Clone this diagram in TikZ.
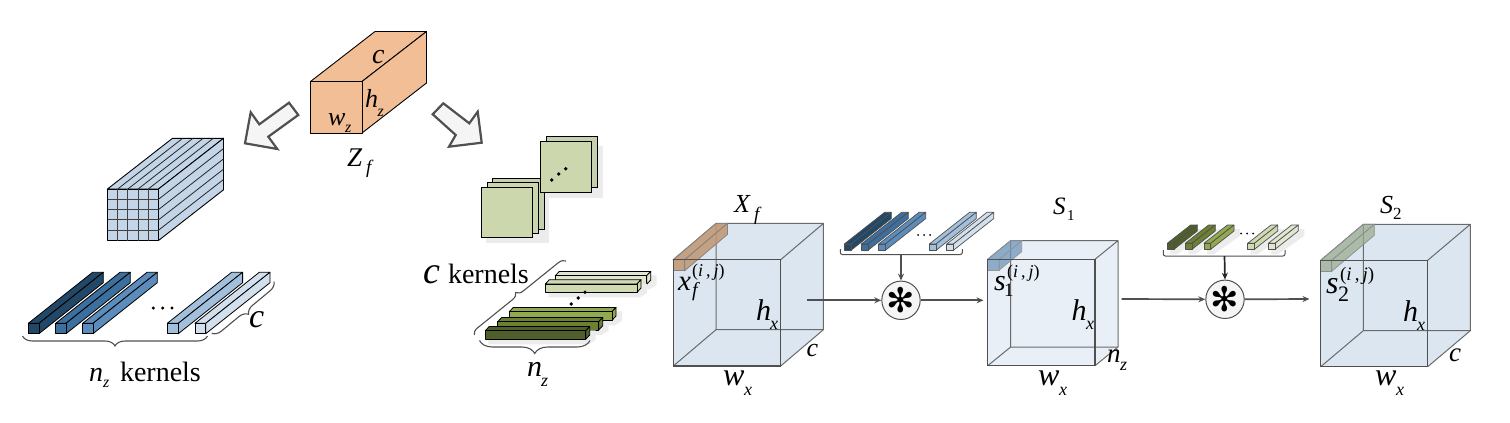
\documentclass[tikz,border=0pt]{standalone}
\usepackage{fontspec}
\setmainfont{Liberation Serif}
\newfontfamily\symfont{DejaVu Sans}
\usetikzlibrary{decorations.pathreplacing,arrows.meta}
\definecolor{edgeg}{HTML}{505050}
\definecolor{cubeA}{HTML}{DBE6F0}
\definecolor{cubeB}{HTML}{E8EFF6}
\definecolor{zfill}{HTML}{F2BE96}
\definecolor{grid}{HTML}{C3D5E6}
\definecolor{bA}{HTML}{234766}
\definecolor{bB}{HTML}{3C6E9E}
\definecolor{bC}{HTML}{5B8CBC}
\definecolor{bD}{HTML}{A2BFDB}
\definecolor{bE}{HTML}{D2E0EE}
\definecolor{gA}{HTML}{4F5F2B}
\definecolor{gB}{HTML}{6B8033}
\definecolor{gC}{HTML}{92A94F}
\definecolor{gD}{HTML}{CFDAB2}
\definecolor{gE}{HTML}{E0E6CF}
\definecolor{sq}{HTML}{CDD7AE}
\definecolor{sqb}{HTML}{C6CFB0}
\definecolor{shad}{HTML}{ECECEC}
\definecolor{colO}{HTML}{C09670}
\definecolor{colB}{HTML}{6F96BA}
\definecolor{colG}{HTML}{98AD8C}
% {options}{x1}{y1}{x2}{y2}{dx}{dy}
\newcommand\kbar[7][]{%
  \filldraw[#1] (#2,#3) -- ({#2+#6},{#3+#7}) -- ({#4+#6},{#3+#7}) -- (#4,#3) -- cycle;
  \filldraw[#1] (#4,#3) -- ({#4+#6},{#3+#7}) -- ({#4+#6},{#5+#7}) -- (#4,#5) -- cycle;
  \filldraw[#1] (#2,#3) rectangle (#4,#5);}
\newcommand\kshadow[6]{\fill[shad] ({#1+3},{#2+4}) -- ({#1+#5+5},{#2+#6+4}) -- ({#3+#5+6},{#2+#6+4}) -- ({#3+#5+6},{#4+#6+5}) -- ({#3+3},{#4+5}) -- ({#1+3},{#4+5}) -- cycle;}
\newcommand\cube[7]{%
  \fill[#7] (#1,#2) -- ({#1+#5},{#2+#6}) -- ({#3+#5},{#2+#6}) -- ({#3+#5},{#4+#6}) -- (#3,#4) -- (#1,#4) -- cycle;
  \draw[cubeback] ({#1+#5},{#4+#6}) -- ({#1+#5},{#2+#6}) ({#1+#5},{#4+#6}) -- ({#3+#5},{#4+#6}) ({#1+#5},{#4+#6}) -- (#1,#4);
  \draw[cubeback] (#1,#2) -- ({#1+#5},{#2+#6}) -- ({#3+#5},{#2+#6}) -- ({#3+#5},{#4+#6}) -- (#3,#4) (#3,#2) -- ({#3+#5},{#2+#6});}
\newcommand\cubefront[4]{\draw[cubefrontline] (#1,#2) rectangle (#3,#4);}
\newcommand\lb[5][]{\node[lbl,#1] (#2) at (#3) {\fontsize{#4}{#4}\selectfont #5};}
\tikzset{
  lbl/.style={anchor=base west,inner sep=0pt,outer sep=0pt},
  cubeback/.style={draw=edgeg!85,line width=1pt,line join=round},
  cubefrontline/.style={draw=edgeg,line width=1.2pt},
  kb/.style={draw=black,line width=0.8pt,line join=round},
  kbs/.style={draw=edgeg,line width=0.7pt,line join=round},
  sqr/.style={draw=black,line width=0.8pt},
  bigarrow/.style={draw=edgeg,fill=black!4,line width=2.2pt,line join=miter},
  bracegray/.style={draw=edgeg,line width=1.1pt,decorate,decoration={brace,amplitude=#1}},
  bracegray/.default=10pt,
  bracket/.style={draw=edgeg,line width=1pt,rounded corners=2pt},
  flow/.style={draw=edgeg,line width=1.7pt,-{Stealth[length=7pt,width=6pt]}},
  opnode/.style={circle,draw=edgeg,fill=black!4,line width=1pt,minimum size=36.5pt,inner sep=0pt},
  dot/.style={fill=black},
}
\begin{document}
\begin{tikzpicture}[x=1pt,y=-1pt]
\useasboundingbox (0,0) rectangle (1510,423);
% Z_f block
\kbar[draw=black,line width=0.9pt,line join=round,fill=zfill]{310.5}{81.5}{362}{133}{64.5}{-50}
\lb{zc}{372,63.3}{28}{\itshape c}
\lb{zh}{365,107.7}{26}{\itshape h}
\lb{zhs}{377.5,116}{16}{\itshape z}
\lb{zw}{328,125}{26}{\itshape w}
\lb{zws}{345,132.7}{16}{\itshape z}
\lb{zZ}{347,166.7}{27}{\itshape Z}
\lb{zZs}{366,173}{19}{\itshape f}
% hollow arrows
\filldraw[bigarrow] (289,102.7) -- (298.3,115) -- (268.3,136.7) -- (277.3,149) -- (245,143.3) -- (250.7,112.3) -- (259.3,124.3) -- cycle;
\filldraw[bigarrow] (443.3,103.3) -- (432.7,114.3) -- (455.7,135) -- (449,146.7) -- (481.7,142.7) -- (477.7,111.7) -- (469.3,123.3) -- cycle;
% grid block
\kbar[draw=black,line width=0.9pt,line join=round,fill=grid]{107.5}{189}{158.5}{240.5}{65}{-50.7}
\foreach \i in {1,...,4} {
  \draw[black!75,line width=0.9pt] ({107.5+\i*10.2},189) -- ({107.5+\i*10.2},240.5);
  \draw[black!75,line width=0.9pt] (107.5,{189+\i*10.3}) -- (158.5,{189+\i*10.3});
  \draw[black!85,line width=0.8pt] ({107.5+\i*10.2},189) -- ({172.5+\i*10.2},138.3);
  \draw[black!85,line width=0.8pt] (158.5,{189+\i*10.3}) -- (223.5,{138.3+\i*10.3});
}
% blue kernels
\kbar[kb,fill=bA]{28.3}{323.3}{39}{333.7}{64.3}{-51}
\kbar[kb,fill=bB]{55.7}{323.3}{66}{333.7}{64.3}{-51}
\kbar[kb,fill=bC]{82.7}{323.3}{93}{333.7}{64.3}{-51}
\kbar[kb,fill=bD]{167.3}{323.3}{178.3}{333.7}{64.3}{-51}
\kbar[kb,fill=bE]{195}{323.3}{205.7}{333.7}{64.3}{-51}
\foreach \x in {153.3,162.7,172} \fill[dot] (\x,308) circle (1.7);
\coordinate (bl1) at (207.5,336);
\coordinate (bl2) at (22.5,336);
\draw[bracegray=10pt] (bl1) -- (bl2);
\coordinate (bc1) at (274,281.7);
\coordinate (bc2) at (211.7,333.3);
\draw[bracegray=9pt] (bc1) -- (bc2);
\lb{lc}{249,327}{34}{\itshape c}
\lb{ln}{89,381}{28}{\itshape n}
\lb{lns}{103,387}{16}{\itshape z}
\lb{lk}{120,381}{28}{kernels}
% green squares
\fill[shad] (486,192) rectangle (549,243);
\fill[shad] (546,146) rectangle (603,198);
\filldraw[sqr,fill=sqb] (492.3,178.3) rectangle (544,229.3);
\filldraw[sqr,fill=sq!85!sqb] (487.3,182.7) rectangle (538.3,233.7);
\filldraw[sqr,fill=sq] (481.3,187) rectangle (532.7,237.7);
\filldraw[sqr,fill=sqb] (546,136) rectangle (597.7,187.7);
\filldraw[sqr,fill=sq] (540.3,141) rectangle (591.7,192.3);
\fill[dot] (551.7,180) circle (1.9) (558.7,174) circle (1.9) (565.7,168.7) circle (1.9);
% green flat kernels
\kshadow{555.3}{275.7}{646.7}{284.3}{4}{-4.3}
\kbar[kb,fill=gE]{555.3}{275.7}{646.7}{284.3}{4}{-4.3}
\kshadow{545.3}{284}{637}{292.3}{4}{-4.3}
\kbar[kb,fill=gD]{545.3}{284}{637}{292.3}{4}{-4.3}
\kshadow{509.3}{311.7}{612}{320.3}{4}{-4.3}
\kbar[kb,fill=gC]{509.3}{311.7}{612}{320.3}{4}{-4.3}
\kshadow{497.7}{321.7}{598.7}{330}{4}{-4.3}
\kbar[kb,fill=gB]{497.7}{321.7}{598.7}{330}{4}{-4.3}
\kshadow{485.3}{330.7}{585.7}{339.3}{4}{-4.3}
\kbar[kb,fill=gA]{485.3}{330.7}{585.7}{339.3}{4}{-4.3}
\fill[dot] (571.3,304) circle (1.9) (578.3,298) circle (1.9) (585,292.3) circle (1.9);
\coordinate (gb1) at (590,340.5);
\coordinate (gb2) at (479.5,340.5);
\draw[bracegray=13pt] (gb1) -- (gb2);
\coordinate (gd1) at (474.3,335);
\coordinate (gd2) at (566,261);
\draw[bracegray=7pt] (gd1) -- (gd2);
\lb{gc}{423,283}{38}{\itshape c}
\lb{gk}{448,283}{28}{kernels}
\lb{gn}{527,376.7}{30}{\itshape n}
\lb{gns}{541,386}{18}{\itshape z}
% cube X_f
\cube{673.3}{259.7}{780.7}{366}{42.7}{-36.3}{cubeA}
\kbar[draw=edgeg!70,line width=0.8pt,fill=colO,fill opacity=.85]{673.3}{259.7}{684.7}{270.7}{42.7}{-36.3}
\cubefront{673.3}{259.7}{780.7}{366}
\lb{xX}{734,212.3}{26}{\itshape X}
\lb{xXs}{754,220}{19}{\itshape f}
\lb{xx}{678,290}{29}{\itshape x}
\lb{xxs}{692,296.7}{20}{\itshape f}
\lb{xij}{692,276.7}{18}{(\textit{i}\,,\,\textit{j})}
\lb{xh}{756,320.7}{30}{\itshape h}
\lb{xhs}{770,329}{18}{\itshape x}
\lb{xc}{806.7,356.7}{26}{\itshape c}
\lb{xw}{723,385.7}{32}{\itshape w}
\lb{xws}{744,395}{18}{\itshape x}
% first convolution
\node[opnode] (op1) at (901,300.3) {\fontsize{34}{34}\selectfont\symfont ✻};
\kbar[kbs,fill=bA]{844.3}{244}{851}{250.3}{40.3}{-31.7}
\kbar[kbs,fill=bB]{861.3}{244}{868}{250.3}{40.3}{-31.7}
\kbar[kbs,fill=bC]{878.7}{244}{885.4}{250.3}{40.3}{-31.7}
\kbar[kbs,fill=bD]{929.3}{244}{936}{250.3}{40.3}{-31.7}
\kbar[kbs,fill=bE]{946.7}{244}{953.4}{250.3}{40.3}{-31.7}
\foreach \x in {918,924,930} \fill[dot] (\x,235) circle (1);
\coordinate (k1a) at (840.3,249);
\coordinate (k1b) at (962.3,249);
\coordinate (k1m) at (901,254.5);
\draw[bracket] (k1a) |- (k1m) -| (k1b);
\draw[flow] (k1m) -- (op1.north);
% cube S_1
\cube{987.7}{259.3}{1095}{365.7}{23}{-18.7}{cubeB}
\kbar[draw=edgeg!60,line width=0.7pt,fill=colB,fill opacity=.75]{987.7}{259.3}{999}{270.3}{22.7}{-18.6}
\cubefront{987.7}{259.3}{1095}{365.7}
\coordinate (x1out) at (806.7,300.3);
\draw[flow] (x1out) -- (op1.west);
\coordinate (s1in) at (983.5,300.3);
\draw[flow] (op1.east) -- (s1in);
\lb{sS}{1053,214.3}{25}{\itshape S}
\lb{sSs}{1067,220}{15}{1}
\lb{ss}{994,290}{30}{\itshape s}
\lb{sss}{1004,296.7}{19}{1}
\lb{sij}{1007,277}{18}{(\textit{i}\,,\,\textit{j})}
\lb{sh}{1071.7,320.7}{30}{\itshape h}
\lb{shs}{1086,329}{18}{\itshape x}
\lb{sn}{1107,362.7}{27}{\itshape n}
\lb{sns}{1120,370.7}{18}{\itshape z}
\lb{sw}{1038,385.7}{32}{\itshape w}
\lb{sws}{1059,395}{18}{\itshape x}
% second convolution
\node[opnode] (op2) at (1225,299.3) {\fontsize{34}{34}\selectfont\symfont ✻};
\foreach \x/\c in {1167.3/gA,1185.3/gB,1204/gC,1247.7/gD,1268.3/gE} {
  \kshadow{\x}{243.3}{\x+6.7}{249.3}{23.3}{-18.3}
  \kbar[kbs,fill=\c]{\x}{243.3}{\x+6.7}{249.3}{23.3}{-18.3}
}
\foreach \x in {1241,1247,1253} \fill[dot] (\x,233.5) circle (1);
\coordinate (k2a) at (1163.3,250);
\coordinate (k2b) at (1285,250);
\coordinate (k2m) at (1224.5,256);
\draw[bracket] (k2a) |- (k2m) -| (k2b);
\draw[flow,draw=black!85] (k2m) -- (op2.north);
% cube S_2
\cube{1320.7}{260.3}{1427.7}{366.7}{42.6}{-36}{cubeA}
\kbar[draw=edgeg!65,line width=0.7pt,fill=colG,fill opacity=.72]{1320.7}{260.3}{1331.7}{271.3}{42.6}{-36}
\cubefront{1320.7}{260.3}{1427.7}{366.7}
\coordinate (s1out) at (1121.7,299);
\draw[flow] (s1out) -- (op2.west);
\coordinate (s2in) at (1309.5,299);
\draw[flow] (op2.east) -- (s2in);
\lb{tS}{1380,213.3}{26}{\itshape S}
\lb{tSs}{1393,219}{17}{2}
\lb{ts}{1326,293.3}{32}{\itshape s}
\lb{tss}{1338,301.7}{22}{2}
\lb{tij}{1340,280}{19}{(\textit{i}\,,\,\textit{j})}
\lb{th}{1403,321.7}{30}{\itshape h}
\lb{ths}{1417,330}{18}{\itshape x}
\lb{tc}{1449,361}{27}{\itshape c}
\lb{tw}{1375,385.7}{32}{\itshape w}
\lb{tws}{1396,395}{18}{\itshape x}
\end{tikzpicture}
\end{document}
